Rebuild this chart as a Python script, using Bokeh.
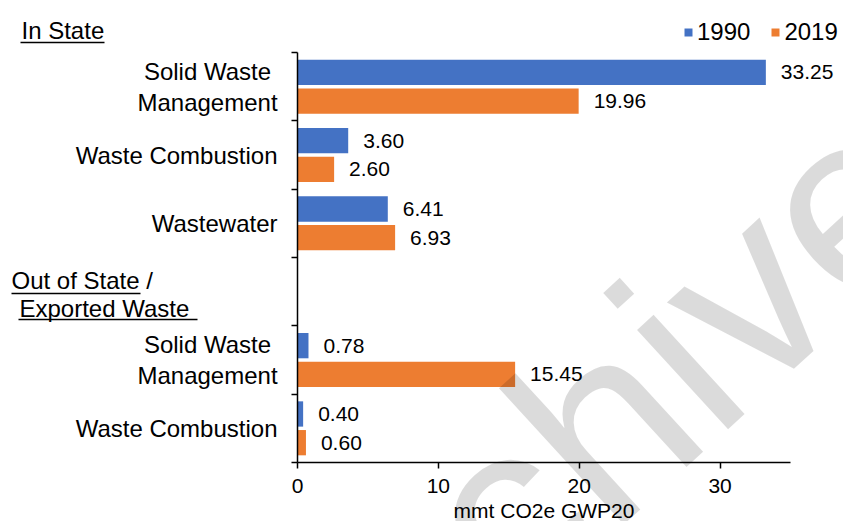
import math

from bokeh.core.properties import value
from bokeh.embed import file_html
from bokeh.models import (BoxAnnotation, ColumnDataSource, FixedTicker, Label,
                          LabelSet, Legend, LegendItem, LinearAxis, Range1d)
from bokeh.plotting import figure
from bokeh.resources import INLINE

# ---- data -------------------------------------------------------------
in_state_categories = ["Solid Waste\nManagement", "Waste Combustion", "Wastewater"]
in_state_1990 = [33.25, 3.60, 6.41]
in_state_2019 = [19.96, 2.60, 6.93]

exported_categories = ["Solid Waste\nManagement", "Waste Combustion"]
exported_1990 = [0.78, 0.40]
exported_2019 = [15.45, 0.60]

series_names = ["1990", "2019"]
x_ticks = [0, 10, 20, 30]
x_label = "mmt CO2e GWP20"
group_titles = ["In State", "Out of State /", "Exported Waste"]
watermark = "Archive"

# ---- layout constants --------------------------------------------------
# The plot frame covers the whole canvas; the axes are pinned inside it
# (fixed_location + bounds) so labels in the margins are not clipped.
W, H = 843, 521
AX_LEFT, AX_TOP = 297, 52          # pixel position of value 0 / row 0
AX_RIGHT, AX_BOTTOM = 790, 462     # pixel position of X_MAX / last row
X_MAX = 35
N_ROWS = len(in_state_categories) + 1 + len(exported_categories)
PX_X = (AX_RIGHT - AX_LEFT) / X_MAX
PX_Y = (AX_BOTTOM - AX_TOP) / N_ROWS

BLUE = "#4472C4"
ORANGE = "#ED7D31"
FONT = "Liberation Sans"


def px_x(px):
    return (px - AX_LEFT) / PX_X


def px_y(py):
    return (py - AX_TOP) / PX_Y


# row index for each bar group (row 3 holds the "Out of State" heading)
rows = list(range(len(in_state_categories))) + [
    len(in_state_categories) + 1 + i for i in range(len(exported_categories))
]
labels = in_state_categories + exported_categories
v1990 = in_state_1990 + exported_1990
v2019 = in_state_2019 + exported_2019

OFF, BAR_H = 0.21, 0.37
src = ColumnDataSource(dict(
    y1990=[r + 0.5 - OFF for r in rows],
    y2019=[r + 0.5 + OFF for r in rows],
    v1990=v1990,
    v2019=v2019,
    t1990=[f"{v:.2f}" for v in v1990],
    t2019=[f"{v:.2f}" for v in v2019],
))

p = figure(
    width=W, height=H,
    x_range=Range1d(px_x(0), px_x(W)), y_range=Range1d(px_y(H), px_y(0)),
    output_backend="svg", toolbar_location=None,
    x_axis_location=None, y_axis_location=None, min_border=0,
)
p.outline_line_color = None
p.xgrid.visible = False
p.ygrid.visible = False

r1 = p.hbar(y="y1990", left=0, right="v1990", height=BAR_H, fill_color=BLUE,
            line_color=None, source=src)
r2 = p.hbar(y="y2019", left=0, right="v2019", height=BAR_H, fill_color=ORANGE,
            line_color=None, source=src)

for xcol, ycol, tcol in (("v1990", "y1990", "t1990"), ("v2019", "y2019", "t2019")):
    p.add_layout(LabelSet(
        x=xcol, y=ycol, text=tcol, source=src, x_offset=15,
        text_align="left", text_baseline="middle",
        text_font=value(FONT), text_font_size="21px", text_color="#000000",
    ))

# ---- axes --------------------------------------------------------------
xa = LinearAxis(fixed_location=N_ROWS, bounds=(0, X_MAX),
                ticker=FixedTicker(ticks=x_ticks))
xa.major_label_text_font = FONT
xa.major_label_text_font_size = "21px"
xa.major_label_text_color = "#000000"
xa.major_label_standoff = 10
xa.major_tick_out = 6
xa.major_tick_in = 0
xa.minor_tick_out = 0
xa.minor_tick_in = 0
xa.axis_line_color = "#000000"
xa.axis_line_width = 1.5
xa.major_tick_line_color = "#000000"
xa.major_tick_line_width = 1.5
p.add_layout(xa, "below")

ya = LinearAxis(fixed_location=0, bounds=(0, N_ROWS),
                ticker=FixedTicker(ticks=list(range(N_ROWS + 1))))
ya.major_label_overrides = {i: "" for i in range(N_ROWS + 1)}
ya.major_tick_out = 6
ya.major_tick_in = 0
ya.minor_tick_out = 0
ya.minor_tick_in = 0
ya.axis_line_color = "#000000"
ya.axis_line_width = 1.5
ya.major_tick_line_color = "#000000"
ya.major_tick_line_width = 1.5
p.add_layout(ya, "left")

# x-axis title
p.add_layout(Label(
    x=X_MAX / 2, y=px_y(510), text=x_label, text_align="center",
    text_baseline="alphabetic", text_font=FONT, text_font_size="21px",
    text_color="#000000",
))

# ---- category labels ---------------------------------------------------
for r, lab in zip(rows, labels):
    if "\n" in lab:
        p.add_layout(Label(
            x=px_x(207), y=r + 0.5, text=lab, text_align="center",
            text_baseline="middle", text_line_height=1.15,
            text_font=FONT, text_font_size="24px", text_color="#000000",
        ))
    else:
        p.add_layout(Label(
            x=px_x(277), y=r + 0.5, text=lab, text_align="right",
            text_baseline="middle", text_font=FONT, text_font_size="24px",
            text_color="#000000",
        ))

# group headings with underlines
headings = [
    (group_titles[0], 21, 30, 20, 104, 42),
    (group_titles[1], 11, 280, 11, 140, 293),
    (group_titles[2], 19, 308, 18, 197, 319),
]
for text, tx, ty, ul, ur, uy in headings:
    p.add_layout(Label(
        x=px_x(tx), y=px_y(ty), text=text, text_align="left",
        text_baseline="middle", text_font=FONT, text_font_size="24px",
        text_color="#000000",
    ))
    p.add_layout(BoxAnnotation(
        left=px_x(ul), right=px_x(ur), top=px_y(uy - 0.8), bottom=px_y(uy + 0.8),
        fill_color="#000000", fill_alpha=1, line_color=None,
    ))

# ---- legend ------------------------------------------------------------
legend = Legend(
    items=[LegendItem(label=series_names[0], renderers=[r1]),
           LegendItem(label=series_names[1], renderers=[r2])],
    orientation="horizontal", location=(683, H - 46),
    glyph_width=10, glyph_height=10, label_standoff=4, spacing=20,
    padding=0, margin=0, border_line_color=None, background_fill_alpha=0,
    label_text_font=FONT, label_text_font_size="24px", label_text_color="#000000",
)
p.add_layout(legend)

# ---- watermark ---------------------------------------------------------
p.add_layout(Label(
    x=px_x(582), y=px_y(442), text=watermark, angle=math.radians(42.5),
    text_align="center", text_baseline="alphabetic",
    text_font=FONT, text_font_size="255px", text_color="#000000", text_alpha=0.14,
))

open("out.html", "w").write(file_html(p, INLINE))
